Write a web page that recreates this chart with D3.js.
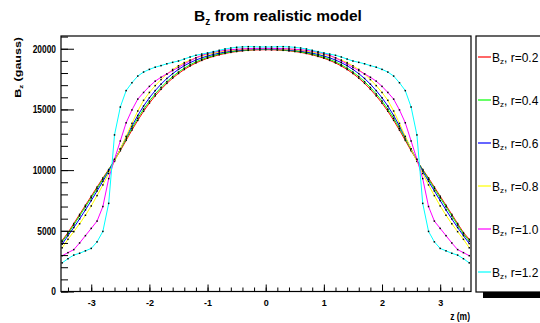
<!DOCTYPE html>
<html>
<head>
<meta charset="utf-8">
<script src="https://cdn.jsdelivr.net/npm/d3@7"></script>
<style>
body { margin: 0; background: #fff; }
svg { display: block; font-family: "Liberation Sans", Arial, sans-serif; }
</style>
</head>
<body>
<div class="chart"></div>
<script>
// z positions (m), -3.5 .. 3.5 step 0.1
var zVals = [-3.5,-3.4,-3.3,-3.2,-3.1,-3.0,-2.9,-2.8,-2.7,-2.6,-2.5,-2.4,-2.3,-2.2,-2.1,-2.0,-1.9,-1.8,-1.7,-1.6,-1.5,-1.4,-1.3,-1.2,-1.1,-1.0,-0.9,-0.8,-0.7,-0.6,-0.5,-0.4,-0.3,-0.2,-0.1,
	0,0.1,0.2,0.3,0.4,0.5,0.6,0.7,0.8,0.9,1.0,1.1,1.2,1.3,1.4,1.5,1.6,1.7,1.8,1.9,2.0,2.1,2.2,2.3,2.4,2.5,2.6,2.7,2.8,2.9,3.0,3.1,3.2,3.3,3.4,3.5];

var bzR02 = [4200,4850,5600,6350,7100,7850,8600,9350,10050,10800,11600,12450,13300,14100,14850,15520,16120,16660,17150,17580,17960,18290,18580,18830,19040,19220,19370,19500,19610,19700,19770,19830,19870,19900,19910,
	19920,19910,19900,19870,19830,19770,19700,19610,19500,19370,19220,19040,18830,18580,18290,17960,17580,17150,16660,16120,15520,14850,14100,13300,12450,11600,10800,10050,9350,8600,7850,7100,6350,5600,4850,4300];
var bzR04 = [4100,4750,5480,6230,6980,7720,8480,9250,10000,10830,11700,12580,13450,14270,15020,15690,16280,16810,17290,17710,18080,18400,18680,18920,19120,19290,19430,19560,19660,19740,19810,19860,19900,19930,19940,
	19950,19940,19930,19900,19860,19810,19740,19660,19560,19430,19290,19120,18920,18680,18400,18080,17710,17290,16810,16280,15690,15020,14270,13450,12580,11700,10830,10000,9250,8480,7720,6980,6230,5480,4750,4150];
var bzR06 = [3900,4600,5270,5980,6720,7490,8280,9080,9900,10800,11740,12700,13630,14500,15280,15960,16550,17080,17550,17950,18300,18600,18850,19070,19250,19400,19530,19640,19730,19800,19860,19900,19940,19960,19970,
	19980,19970,19960,19940,19900,19860,19800,19730,19640,19530,19400,19250,19070,18850,18600,18300,17950,17550,17080,16550,15960,15280,14500,13630,12700,11740,10800,9900,9080,8280,7490,6720,5980,5270,4600,3950];
var bzR08 = [3600,4300,4930,5580,6280,7050,7900,8780,9720,10720,11750,12780,13850,14870,15750,16400,16960,17460,17910,18290,18600,18860,19070,19250,19400,19530,19640,19730,19800,19860,19910,19950,19970,19990,20000,
	20000,20000,19990,19970,19950,19910,19860,19800,19730,19640,19530,19400,19250,19070,18860,18600,18290,17910,17460,16960,16400,15750,14870,13850,12780,11750,10720,9720,8780,7900,7050,6280,5580,4930,4300,3600];
var bzR10 = [2950,3200,3450,4000,4600,5200,5800,7000,9300,10900,12400,13900,14960,15850,16400,16900,17330,17650,17930,18200,18470,18750,19000,19250,19460,19600,19710,19800,19870,19920,19960,19990,20010,20020,20030,
	20030,20030,20020,20010,19990,19960,19920,19870,19800,19710,19600,19460,19250,19000,18750,18470,18200,17930,17650,17330,16900,16400,15850,14960,13900,12400,10900,9300,7000,5800,5200,4600,4000,3450,3200,2950];
var bzR12 = [2360,2700,3000,3150,3350,3550,4090,4950,7260,12900,15200,16550,17200,17750,18080,18300,18480,18610,18760,18880,18990,19150,19320,19460,19560,19650,19760,19870,19980,20060,20120,20150,20170,20160,20150,
	20150,20150,20160,20170,20150,20120,20060,19980,19870,19760,19650,19560,19460,19320,19150,18990,18880,18760,18610,18480,18300,18080,17750,17200,16550,15200,12900,7260,4950,4090,3550,3350,3150,3000,2700,2360];

var seriesNames = ['0.2','0.4','0.6','0.8','1.0','1.2'];
var seriesColors = ['#ff0000','#00ff00','#0000ff','#ffff00','#ff00ff','#00ffff'];
var seriesValues = [bzR02, bzR04, bzR06, bzR08, bzR10, bzR12];

var xMajor = [-3,-2,-1,0,1,2,3];
var yMajor = [0,5000,10000,15000,20000];

var W = 540, H = 323;
var frame = {left:61, right:471, top:36, bottom:291.5};

var svg = d3.select('.chart').append('svg')
	.attr('width', W)
	.attr('height', H);

var x = d3.scaleLinear().domain([-3.52, 3.53]).range([frame.left, frame.right]);
var y = d3.scaleLinear().domain([0, 21050]).range([frame.bottom, frame.top]);

// title
var title = svg.append('text')
	.attr('x', 278)
	.attr('y', 21)
	.style('text-anchor', 'middle')
	.style('font-weight', 'bold')
	.style('font-size', '15.5px');
title.append('tspan').text('B');
title.append('tspan').attr('dy', 4).style('font-size', '10px').text('z');
title.append('tspan').attr('dy', -4).text(' from realistic model');

// curves
var line = d3.line()
	.x(function(d){ return x(d[0]); })
	.y(function(d){ return y(d[1]); });

var plot = svg.append('g');
seriesValues.forEach(function(vals, i) {
	var pts = zVals.map(function(z, j){ return [z, vals[j]]; });
	plot.append('path')
		.datum(pts)
		.attr('d', line)
		.attr('fill', 'none')
		.attr('stroke', seriesColors[i])
		.attr('stroke-width', 1);
	plot.selectAll('.m' + i)
		.data(pts)
		.enter().append('rect')
		.attr('x', function(d){ return x(d[0]) - 0.75; })
		.attr('y', function(d){ return y(d[1]) - 0.75; })
		.attr('width', 1.5)
		.attr('height', 1.5)
		.attr('fill', '#000');
});

// axes
var xMinor = d3.range(-34, 36, 2).map(function(v){ return v / 10; });
var yMinor = d3.range(0, 21001, 1000);

svg.append('g')
	.attr('transform', 'translate(0,' + frame.bottom + ')')
	.call(d3.axisBottom(x).tickValues(xMinor).tickSize(-4).tickFormat(''))
	.call(function(g){ g.select('.domain').remove(); });

var xAxisG = svg.append('g')
	.attr('transform', 'translate(0,' + frame.bottom + ')')
	.call(d3.axisBottom(x).tickValues(xMajor).tickSize(-7).tickPadding(8).tickFormat(d3.format('d')));
xAxisG.select('.domain').remove();
xAxisG.selectAll('text')
	.style('font-family', '"Liberation Sans", Arial, sans-serif')
	.style('font-size', '9px')
	.style('font-weight', 'bold')
	.attr('fill', '#000')
	.text(function(d){ return d < 0 ? '-' + Math.abs(d) : d; });

svg.append('g')
	.attr('transform', 'translate(' + frame.left + ',0)')
	.call(d3.axisLeft(y).tickValues(yMinor).tickSize(-7).tickFormat(''))
	.call(function(g){ g.select('.domain').remove(); });

var yAxisG = svg.append('g')
	.attr('transform', 'translate(' + frame.left + ',0)')
	.call(d3.axisLeft(y).tickValues(yMajor).tickSize(-13).tickFormat(d3.format('d')));
yAxisG.select('.domain').remove();
yAxisG.selectAll('text')
	.attr('x', null)
	.attr('transform', 'translate(-5,0) scale(0.8,1)')
	.style('font-family', '"Liberation Sans", Arial, sans-serif')
	.style('font-size', '10.5px')
	.style('font-weight', 'bold')
	.attr('fill', '#000');

svg.selectAll('.tick line').attr('stroke', '#000');

// frame
svg.append('rect')
	.attr('x', frame.left)
	.attr('y', frame.top)
	.attr('width', frame.right - frame.left)
	.attr('height', frame.bottom - frame.top)
	.attr('fill', 'none')
	.attr('stroke', '#000')
	.attr('stroke-width', 1.2);

// axis titles
var yTitle = svg.append('text')
	.attr('transform', 'translate(21,37) scale(0.78,1) rotate(-90)')
	.style('text-anchor', 'end')
	.style('font-weight', 'bold')
	.style('font-size', '12.5px');
yTitle.append('tspan').text('B');
yTitle.append('tspan').attr('dy', 3).style('font-size', '8px').text('z');
yTitle.append('tspan').attr('dy', -3).text(' (gauss)');

svg.append('text')
	.attr('transform', 'translate(470,320) scale(0.85,1)')
	.style('text-anchor', 'end')
	.style('font-weight', 'bold')
	.style('font-size', '10px')
	.text('z (m)');

// legend
svg.append('rect')
	.attr('x', 483)
	.attr('y', 292)
	.attr('width', 70)
	.attr('height', 6)
	.attr('fill', '#000');
svg.append('rect')
	.attr('x', 476)
	.attr('y', frame.top)
	.attr('width', 80)
	.attr('height', 256)
	.attr('fill', '#fff')
	.attr('stroke', '#000')
	.attr('stroke-width', 1.2);

var legend = svg.selectAll('.legend')
	.data(seriesNames)
	.enter().append('g')
	.attr('class', 'legend')
	.attr('transform', function(d, i){ return 'translate(478,' + (57 + i * 43) + ')'; });

legend.append('line')
	.attr('x1', 0).attr('x2', 13)
	.attr('y1', 0).attr('y2', 0)
	.attr('stroke', function(d, i){ return seriesColors[i]; })
	.attr('stroke-width', 1.2);

var lt = legend.append('text')
	.attr('transform', 'translate(14,4.5)')
	.style('font-size', '12px');
lt.append('tspan').text('B');
lt.append('tspan').attr('dy', 2.5).style('font-size', '8px').text('z');
lt.append('tspan').attr('dy', -2.5).text(function(d){ return ', r=' + d; });
</script>
</body>
</html>
